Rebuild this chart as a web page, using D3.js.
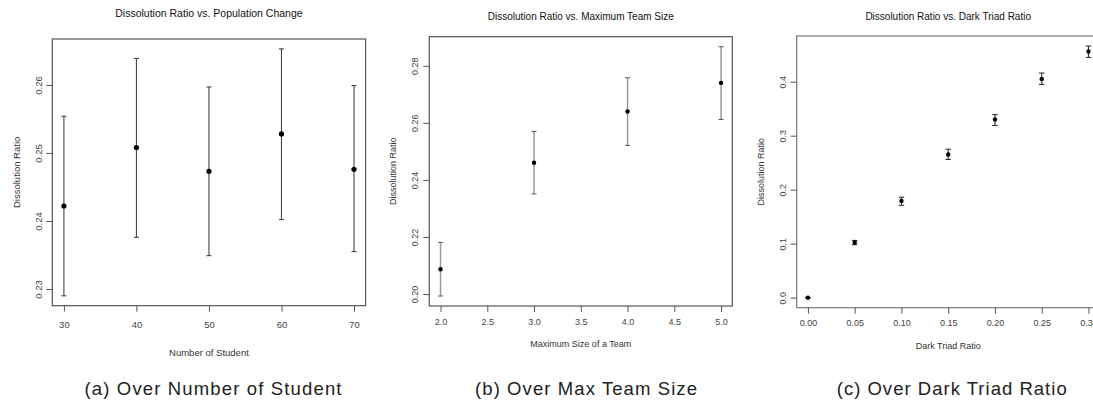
<!DOCTYPE html>
<html><head><meta charset="utf-8">
<script src="https://cdn.jsdelivr.net/npm/d3@7/dist/d3.min.js"></script>
<style>html,body{margin:0;padding:0;background:#fff;}svg{display:block;}</style>
</head><body>
<svg id="chart" width="1093" height="401"></svg>
<script>
// ---- Panel (a): Number of Student ----
const studentX = [30, 40, 50, 60, 70];
const studentMean = [0.2422, 0.2508, 0.2473, 0.2528, 0.2476];
const studentLow = [0.2290, 0.2376, 0.2349, 0.2402, 0.2355];
const studentHigh = [0.2554, 0.2639, 0.2597, 0.2653, 0.2599];
const studentXTicks = [30, 40, 50, 60, 70];
const studentYTicks = [0.23, 0.24, 0.25, 0.26];

// ---- Panel (b): Maximum Team Size ----
const teamX = [2, 3, 4, 5];
const teamMean = [0.2087, 0.2460, 0.2640, 0.2740];
const teamLow = [0.1993, 0.2351, 0.2521, 0.2612];
const teamHigh = [0.2181, 0.2570, 0.2758, 0.2867];
const teamXTicks = [2.0, 2.5, 3.0, 3.5, 4.0, 4.5, 5.0];
const teamYTicks = [0.20, 0.22, 0.24, 0.26, 0.28];

// ---- Panel (c): Dark Triad Ratio ----
const triadX = [0.00, 0.05, 0.10, 0.15, 0.20, 0.25, 0.30];
const triadMean = [0.000, 0.102, 0.179, 0.265, 0.330, 0.405, 0.456];
const triadLow = [0.000, 0.098, 0.171, 0.256, 0.319, 0.395, 0.445];
const triadHigh = [0.000, 0.106, 0.186, 0.275, 0.339, 0.416, 0.466];
const triadXTicks = [0.00, 0.05, 0.10, 0.15, 0.20, 0.25, 0.30];
const triadYTicks = [0.0, 0.1, 0.2, 0.3, 0.4];

const titles = ["Dissolution Ratio vs. Population Change", "Dissolution Ratio vs. Maximum Team Size", "Dissolution Ratio vs. Dark Triad Ratio"];
const xLabels = ["Number of Student", "Maximum Size of a Team", "Dark Triad Ratio"];
const yLabel = "Dissolution Ratio";
const captions = ["(a) Over Number of Student", "(b) Over Max Team Size", "(c) Over Dark Triad Ratio"];

const svg = d3.select("#chart");
const FONT = "'Liberation Sans', Arial, sans-serif";

function padDomain(vals) {
  const [a, b] = d3.extent(vals);
  const p = (b - a) * 0.04;
  return [a - p, b + p];
}

const panels = [
  {x: studentX, m: studentMean, lo: studentLow, hi: studentHigh, xt: studentXTicks, yt: studentYTicks,
   xfmt: d3.format("d"), yfmt: d3.format(".2f"),
   box: {l: 52.3, r: 365.6, t: 39, b: 305.7}, titleDy: 26, xlabDy: 47, tickLabDy: 19, capW: 5, r: 2.6,
   barColor: "#444", capColor: "#333", frame: "#555", barW: 1.1,
   title: titles[0], xlab: xLabels[0], caption: captions[0], capX: 213, capLen: 257, fs: 9.5, titleFs: 10.5},
  {x: teamX, m: teamMean, lo: teamLow, hi: teamHigh, xt: teamXTicks, yt: teamYTicks,
   xfmt: d3.format(".1f"), yfmt: d3.format(".2f"),
   box: {l: 429.3, r: 732.3, t: 36.7, b: 306}, titleDy: 20.7, xlabDy: 37.5, tickLabDy: 16, capW: 5, r: 2.2,
   barColor: "#999", capColor: "#555", frame: "#555", barW: 1.5,
   title: titles[1], xlab: xLabels[1], caption: captions[1], capX: 586, capLen: 222, fs: 9, titleFs: 10},
  {x: triadX, m: triadMean, lo: triadLow, hi: triadHigh, xt: triadXTicks, yt: triadYTicks,
   xfmt: d3.format(".2f"), yfmt: d3.format(".1f"),
   box: {l: 796.7, r: 1099.7, t: 36, b: 307.7}, titleDy: 20, xlabDy: 38, tickLabDy: 15.5, capW: 5.5, r: 2.2,
   barColor: "#333", capColor: "#222", frame: "#777", barW: 1.1,
   title: titles[2], xlab: xLabels[2], caption: captions[2], capX: 951.7, capLen: 230, fs: 9, titleFs: 10}
];

panels.forEach(p => {
  const B = p.box;
  const xs = d3.scaleLinear().domain(padDomain(p.x)).range([B.l, B.r]);
  const ys = d3.scaleLinear().domain(padDomain(p.lo.concat(p.hi, p.m))).range([B.b, B.t]);
  const g = svg.append("g");

  // frame
  g.append("rect").attr("x", B.l).attr("y", B.t).attr("width", B.r - B.l).attr("height", B.b - B.t)
    .attr("fill", "none").attr("stroke", p.frame).attr("stroke-width", 1.2);

  // x axis
  const xa = g.append("g").attr("transform", `translate(0,${B.b})`)
    .call(d3.axisBottom(xs).tickValues(p.xt).tickSize(6).tickSizeOuter(0).tickFormat(p.xfmt));
  xa.select(".domain").remove();
  xa.selectAll(".tick line").attr("stroke", "#555");
  xa.selectAll(".tick text").attr("y", p.tickLabDy).attr("dy", null).attr("dominant-baseline", "central")
    .attr("font-family", FONT).attr("font-size", p.fs).attr("fill", "#444");

  // y axis
  const ya = g.append("g").attr("transform", `translate(${B.l},0)`)
    .call(d3.axisLeft(ys).tickValues(p.yt).tickSize(6).tickSizeOuter(0).tickFormat(p.yfmt));
  ya.select(".domain").remove();
  ya.selectAll(".tick line").attr("stroke", "#555");
  ya.selectAll(".tick text").attr("x", null).attr("dy", null).attr("text-anchor", "middle")
    .attr("dominant-baseline", "central")
    .attr("transform", "translate(-14,0) rotate(-90)")
    .attr("font-family", FONT).attr("font-size", p.fs).attr("fill", "#444");

  // error bars
  const idx = d3.range(p.x.length);
  g.selectAll(".bar").data(idx).join("line")
    .attr("x1", i => xs(p.x[i])).attr("x2", i => xs(p.x[i]))
    .attr("y1", i => ys(p.lo[i])).attr("y2", i => ys(p.hi[i]))
    .attr("stroke", p.barColor).attr("stroke-width", p.barW);
  [p.lo, p.hi].forEach(arr => {
    g.selectAll(null).data(idx).join("line")
      .attr("x1", i => xs(p.x[i]) - p.capW / 2).attr("x2", i => xs(p.x[i]) + p.capW / 2)
      .attr("y1", i => ys(arr[i])).attr("y2", i => ys(arr[i]))
      .attr("stroke", p.capColor).attr("stroke-width", 1);
  });
  g.selectAll(".pt").data(idx).join("circle")
    .attr("cx", i => xs(p.x[i])).attr("cy", i => ys(p.m[i])).attr("r", p.r).attr("fill", "#000");

  const cx = (B.l + B.r) / 2;
  // title
  g.append("text").attr("x", cx).attr("y", B.t - p.titleDy).attr("text-anchor", "middle")
    .attr("dominant-baseline", "central").attr("font-family", FONT).attr("font-size", p.titleFs)
    .attr("fill", "#111").text(p.title);
  // x label
  g.append("text").attr("x", cx).attr("y", B.b + p.xlabDy).attr("text-anchor", "middle")
    .attr("dominant-baseline", "central").attr("font-family", FONT).attr("font-size", p.fs)
    .attr("fill", "#333").text(p.xlab);
  // y label
  g.append("text").attr("transform", `translate(${B.l - 36},${(B.t + B.b) / 2}) rotate(-90)`)
    .attr("text-anchor", "middle").attr("dominant-baseline", "central")
    .attr("font-family", FONT).attr("font-size", p.fs).attr("fill", "#333").text(yLabel);
  // caption
  svg.append("text").attr("x", p.capX - p.capLen / 2).attr("y", 388)
    .attr("dominant-baseline", "central").attr("font-family", FONT).attr("font-size", 18.5)
    .attr("fill", "#222").attr("textLength", p.capLen).attr("lengthAdjust", "spacing").text(p.caption);
});
</script>
</body></html>
